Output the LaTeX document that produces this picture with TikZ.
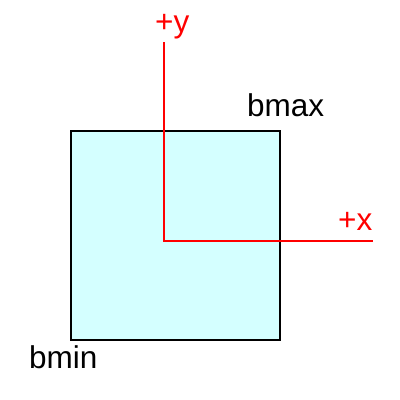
\documentclass[tikz,border=0pt]{standalone}
\usepackage{fontspec}
\setmainfont{Liberation Sans}
\definecolor{boxfill}{HTML}{D4FFFF}
\begin{document}
\begin{tikzpicture}[x=1pt,y=-1pt,
  lbl/.style={inner sep=0pt,anchor=base west,font=\fontsize{31.5}{31.5}\selectfont},
  axis/.style={draw=red,line width=2.5pt}]
\useasboundingbox (0,0) rectangle (400,400);
\node[draw=black,line width=2pt,fill=boxfill,minimum width=209pt,minimum height=209pt,inner sep=0pt,anchor=north west] (box) at (70,130) {};
\coordinate (o) at (164,241);
\coordinate (ytip) at (164,42);
\coordinate (xtip) at (373,241);
\draw[axis] (ytip) -- (o) -- (xtip);
\node[lbl] (bmin) at (29,368) {bmin};
\node[lbl] (bmax) at (247,116) {bmax};
\node[lbl,text=red] (ylab) at (155,32) {+y};
\node[lbl,text=red] (xlab) at (338,230) {+x};
\end{tikzpicture}
\end{document}
